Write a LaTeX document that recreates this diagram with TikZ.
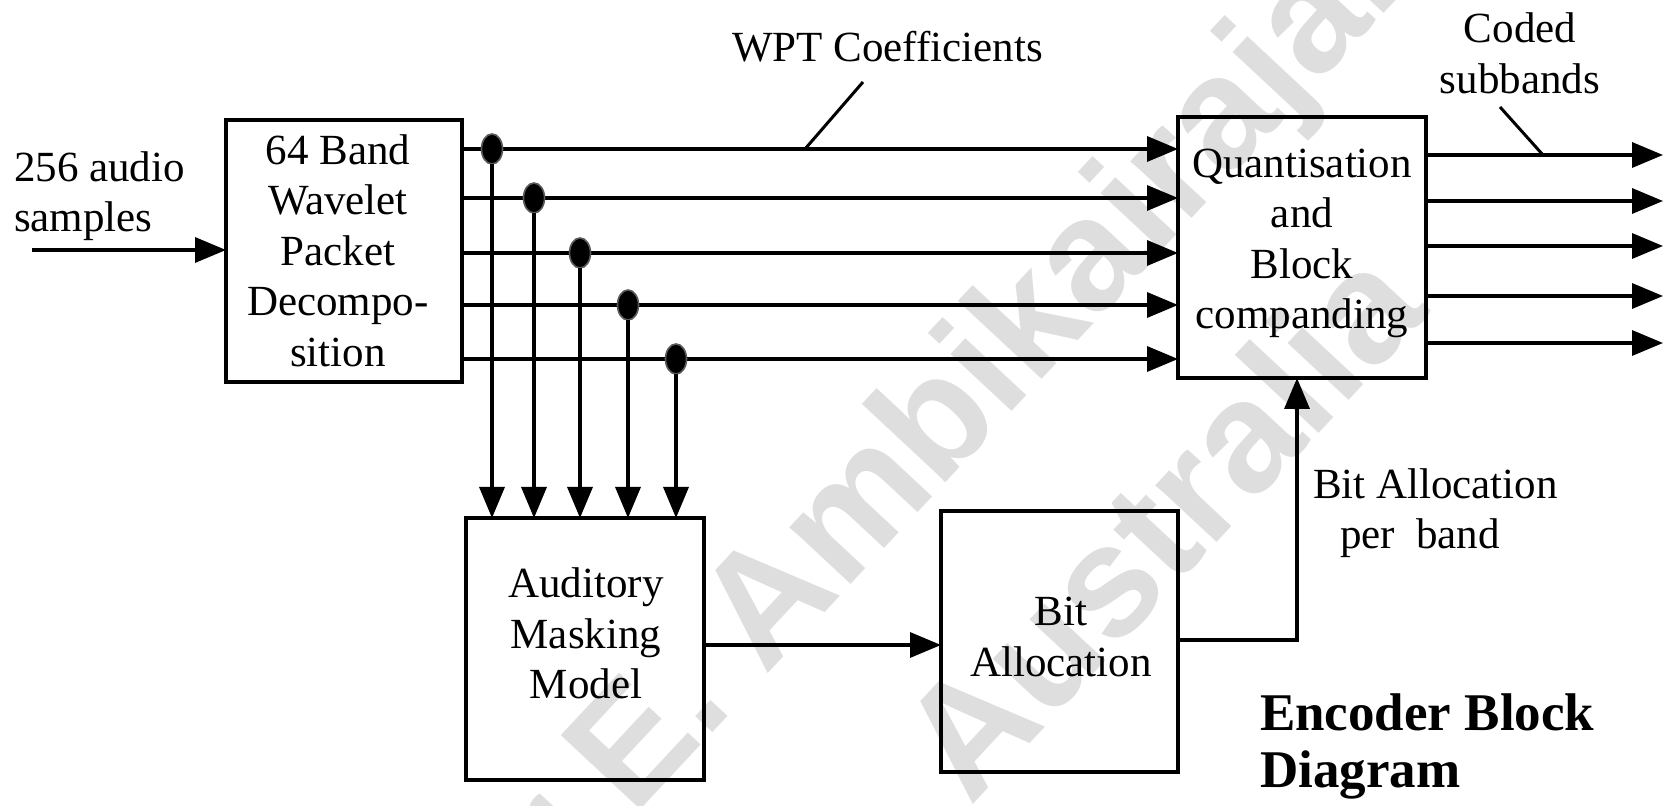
\documentclass[tikz,border=0pt]{standalone}
\usepackage{fontspec}
\setmainfont{Liberation Serif}
\newfontfamily\markfont{Liberation Sans}
\usetikzlibrary{arrows.meta,shapes.geometric}
\definecolor{markgray}{RGB}{222,222,222}
\definecolor{dotrim}{RGB}{90,90,90}
\begin{document}
\begin{tikzpicture}[x=0.5pt,y=-0.5pt,
  every node/.style={inner sep=0pt,outer sep=0pt},
  txt/.style={font=\fontsize{21.5}{25.25}\selectfont, align=center},
  blk/.style={draw, line width=2pt, rectangle},
  wire/.style={line width=1.7pt},
  sig/.style={wire, -{Triangle[length=15.5pt,width=12.5pt]}},
  tap/.style={ellipse, fill=black, draw=dotrim, line width=0.8pt,
              minimum width=10.5pt, minimum height=15pt},
  lead/.style={line width=1.5pt},
  wmark/.style={text=markgray, font=\markfont\bfseries\fontsize{79}{79}\selectfont,
                rotate=47, anchor=base west}
]
\useasboundingbox (0,0) rectangle (1670,806);

% background watermark
\begin{scope}
  \clip (0,0) rectangle (1670,806);
  \node[wmark] (wm1) at (484,978) {Dr E. Ambikairajah};
  \node[wmark] (wm2) at (970,807) {Australia};
\end{scope}

% blocks
\node[blk, minimum width=118pt, minimum height=131pt] (wav) at (344,251) {};
\node[txt] (wavt) at (338,250.5) {64 Band\\Wavelet\\Packet\\Decompo-\\sition};
\node[blk, minimum width=124pt, minimum height=130.5pt] (quant) at (1302,247.5) {};
\node[txt] (quantt) at (1302,243.5) {Quantisation\\and\\Block\\companding};
\node[blk, minimum width=119pt, minimum height=131pt] (aud) at (585,649) {};
\node[txt] (audt) at (586,633.5) {Auditory\\Masking\\Model};
\node[blk, minimum width=118.5pt, minimum height=130.5pt] (bit) at (1059.5,641.5) {};
\node[txt] (bitt) at (1061,637) {Bit\\Allocation};

% input
\coordinate (inp) at (32,250);
\draw[sig] (inp) -- (inp -| wav.west);

% coefficient bus with taps to the masking model
\foreach \i/\y/\x in {1/149/492, 2/198/534, 3/253/580, 4/305/628, 5/359/676} {
  \coordinate (b\i) at (0,\y);
  \draw[sig] (wav.east |- b\i) -- (quant.west |- b\i);
}
\foreach \i/\y/\x in {1/149/492, 2/198/534, 3/253/580, 4/305/628, 5/359/676} {
  \node[tap] (tap\i) at (\x,\y) {};
  \draw[sig] (tap\i) -- (tap\i |- aud.north);
}

% coded outputs
\foreach \i/\y in {1/155, 2/201, 3/246, 4/296, 5/343} {
  \coordinate (o\i) at (1663,\y);
  \draw[sig] (quant.east |- o\i) -- (o\i);
}

% masking model to bit allocation, bit allocation to quantiser
\coordinate (mk) at (0,645);
\draw[sig] (aud.east |- mk) -- (bit.west |- mk);
\coordinate (ba) at (1297,640);
\draw[sig] (bit.east |- ba) -- (ba) -- (ba |- quant.south);

% labels and leaders
\node[txt, anchor=base west] (wpt) at (732,62) {WPT Coefficients};
\coordinate (wptA) at (863,82);
\coordinate (wptB) at (805,149);
\draw[lead] (wptA) -- (wptB);

\node[txt] (coded) at (1520,53.5) {Coded\\subbands};
\coordinate (codA) at (1500,107);
\coordinate (codB) at (1543,155);
\draw[lead] (codA) -- (codB);

\node[txt, align=left, anchor=west] (inlab) at (14,196) {256 audio\\samples};
\node[txt, align=left, anchor=west] (balab) at (1313,513)
  {Bit Allocation\\\hspace*{13.5pt}per\ \ band};
\node[font=\bfseries\fontsize{26.5}{28.5}\selectfont, align=left, anchor=west]
  (title) at (1260,746) {Encoder Block\\Diagram};
\end{tikzpicture}
\end{document}
